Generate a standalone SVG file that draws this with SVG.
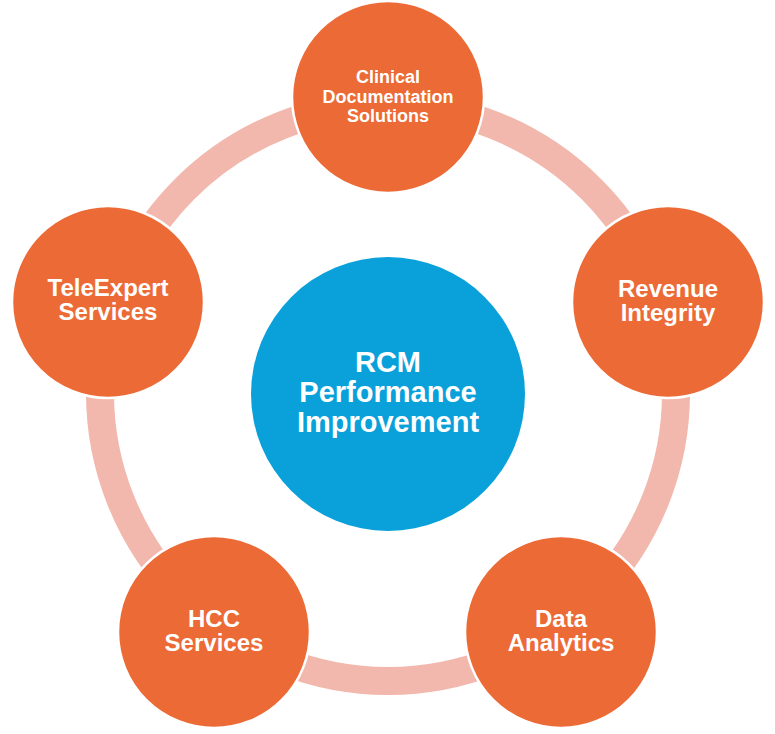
<svg xmlns="http://www.w3.org/2000/svg" width="775" height="734" viewBox="0 0 775 734">
<style>
.ring{fill:none;stroke:#F3B8AD;stroke-width:28}
.node{fill:#EC6A36;stroke:#FFFFFF;stroke-width:2.5}
.hub{fill:#0AA1DA}
text{font-family:"Liberation Sans",Arial,sans-serif;font-weight:bold;fill:#FFFFFF;text-anchor:middle}
.t23{font-size:24px}
.t17{font-size:18px}
.t29{font-size:29px}
</style>
<rect width="775" height="734" fill="#FFFFFF"/>
<g id="connectors">
<circle class="ring" cx="388" cy="393" r="288"/>
</g>
<g id="hub">
<circle class="hub" cx="388" cy="394" r="137"/>
<text class="t29" x="388" y="372">RCM</text>
<text class="t29" x="388" y="402">Performance</text>
<text class="t29" x="388" y="432">Improvement</text>
</g>
<g id="clinical">
<circle class="node" cx="388" cy="97" r="96"/>
<text class="t17" x="388" y="83">Clinical</text>
<text class="t17" x="388" y="102.5">Documentation</text>
<text class="t17" x="388" y="122">Solutions</text>
</g>
<g id="revenue">
<circle class="node" cx="668" cy="302" r="96"/>
<text class="t23" x="668" y="297">Revenue</text>
<text class="t23" x="668" y="321">Integrity</text>
</g>
<g id="data">
<circle class="node" cx="561" cy="632" r="96"/>
<text class="t23" x="561" y="627">Data</text>
<text class="t23" x="561" y="651">Analytics</text>
</g>
<g id="hcc">
<circle class="node" cx="214" cy="632" r="96"/>
<text class="t23" x="214" y="627">HCC</text>
<text class="t23" x="214" y="651">Services</text>
</g>
<g id="teleexpert">
<circle class="node" cx="108" cy="302" r="96"/>
<text class="t23" x="108" y="296">TeleExpert</text>
<text class="t23" x="108" y="320">Services</text>
</g>
</svg>
